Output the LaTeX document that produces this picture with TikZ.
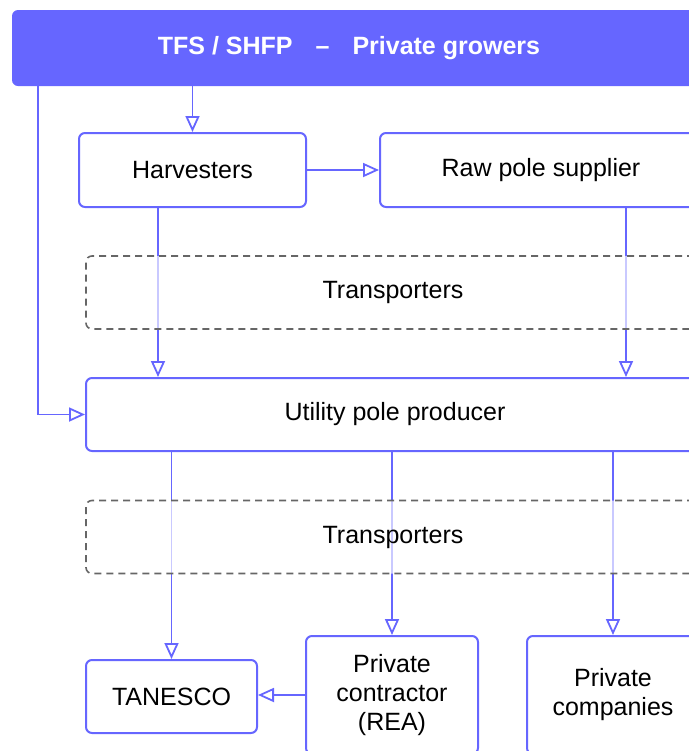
\documentclass[tikz,border=0pt]{standalone}
\usepackage{fontspec}
\setmainfont{Liberation Sans}
\usetikzlibrary{arrows.meta}

\definecolor{poleblue}{HTML}{6666FF}
\definecolor{dashgray}{HTML}{666666}

\begin{document}
\begin{tikzpicture}[x=0.5pt,y=-0.5pt,
 main node/.style={draw=poleblue,line width=1pt,rounded corners=3pt,fill=white,
   inner sep=0pt,align=center,font=\fontsize{12.5}{14.5}\selectfont},
 head node/.style={fill=poleblue,rounded corners=3pt,inner sep=0pt,text=white,
   font=\fontsize{12.5}{15}\selectfont\bfseries},
 trans node/.style={draw=dashgray,line width=0.8pt,dash pattern=on 3.5pt off 2.5pt,
   rounded corners=3pt,fill=white,fill opacity=0.65,text opacity=1,inner sep=0pt,
   minimum width=307pt,minimum height=36.5pt,font=\fontsize{12.5}{14.5}\selectfont},
 flow/.style={draw=poleblue,line width=0.9pt,
   -{Triangle[open,length=8pt,width=7pt,line width=0.9pt]}}]

  \useasboundingbox (0,0) rectangle (689,751);
  \clip (0,0) rectangle (689,751);

  \node[head node,minimum width=345pt,minimum height=38pt] (grow) at (357,48)
    {TFS / SHFP\hspace{11.5pt}--\hspace{11.5pt}Private growers\hspace*{8pt}\mbox{}};

  \node[main node,minimum width=113.5pt,minimum height=37pt] (harv) at (192.5,170) {Harvesters};
  \node[main node,minimum width=161pt,minimum height=37pt] (raw) at (541,170) {Raw pole supplier};
  \node[main node,minimum width=309pt,minimum height=36.5pt] (util) at (395,414.5) {Utility pole producer};
  \node[main node,minimum width=85.5pt,minimum height=36.5pt] (tan) at (171.5,696.5) {TANESCO};
  \node[main node,minimum width=86pt,minimum height=59pt] (rea) at (392,695) {Private\\contractor\\(REA)};
  \node[main node,minimum width=86pt,minimum height=59pt] (comp) at (613,695) {Private\\companies};

  % links
  \coordinate (lft) at ([xshift=13pt]grow.south west);
  \coordinate (hs) at ([xshift=-17.25pt]harv.south);
  \coordinate (rs) at ([xshift=42.5pt]raw.south);

  \path[flow] (grow.south -| harv.north) -- (harv.north);
  \path[flow] (lft) |- (util.west);
  \path[flow] (harv.east) -- (raw.west);
  \path[flow] (hs) -- (hs |- util.north);
  \path[flow] (rs) -- (rs |- util.north);
  \foreach \t in {tan, rea, comp} {
   \path[flow] (\t.north |- util.south) -- (\t.north);}
  \path[flow] (rea.west) -- (tan.east |- rea.west);

  \node[trans node] (tr1) at (393,292.5) {Transporters};
  \node[trans node] (tr2) at (393,537) {Transporters};

\end{tikzpicture}
\end{document}
